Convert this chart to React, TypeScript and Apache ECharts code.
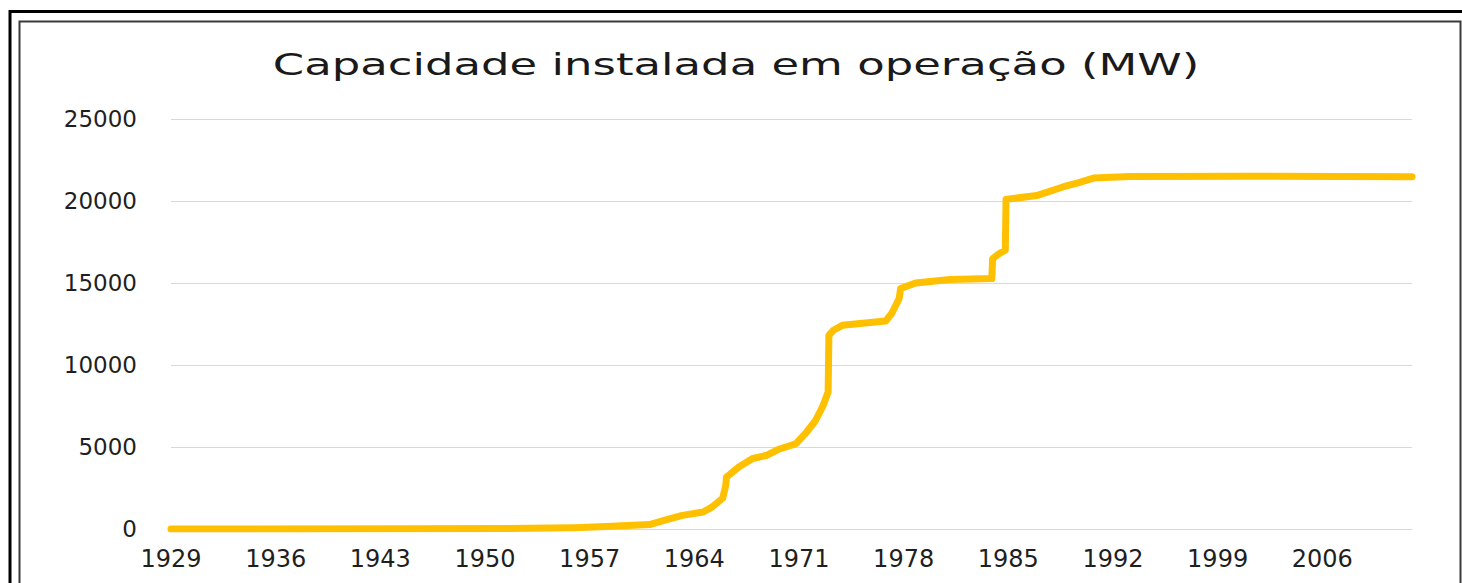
import React, { useEffect, useRef } from "react";
import * as echarts from "echarts";

const TITLE = "Capacidade instalada em operação (MW)";

// Date (fractional year) of each reading and installed capacity in MW
const years = [
  1929, 1945, 1953, 1956, 1958.1, 1961.0, 1962.1, 1963.2, 1964.6, 1965.2,
  1965.9, 1966.1, 1966.15, 1967.0, 1967.9, 1968.8, 1969.7, 1970.8, 1971.5, 1972.1,
  1972.6, 1972.95, 1973.0, 1973.3, 1973.9, 1976.8, 1977.2, 1977.7, 1977.8, 1978.8,
  1981.1, 1983.9, 1983.95, 1984.4, 1984.8, 1984.85, 1986.9, 1988.7, 1989.6, 1990.7,
  1993.1, 2001.2, 2012,
];
const capacityMW = [
  0, 10, 40, 80, 150, 270, 560, 830, 1040, 1350,
  1880, 2650, 3160, 3800, 4300, 4480, 4880, 5200, 5900, 6600,
  7500, 8350, 11810, 12120, 12420, 12680, 13140, 14050, 14660, 15000,
  15210, 15270, 16480, 16800, 17000, 20100, 20330, 20870, 21090, 21400,
  21490, 21510, 21480,
];

const xMin = 1929;
const xMax = 2012;
const xStep = 7;
const yMin = 0;
const yMax = 25000;
const yStep = 5000;

export default function App() {
  const ref = useRef<HTMLDivElement>(null);

  useEffect(() => {
    document.body.style.margin = "0";
    if (!ref.current) return;
    const chart = echarts.init(ref.current, null, { renderer: "svg" });
    const font = "'DejaVu Sans', 'Open Sans', sans-serif";
    chart.setOption({
      animation: false,
      backgroundColor: "#ffffff",
      grid: { left: 171, right: 50, top: 119, bottom: 54, containLabel: false },
      graphic: [
        {
          type: "rect",
          silent: true,
          shape: { x: 10, y: 11.5, width: 1480, height: 620 },
          style: { fill: "none", stroke: "#000000", lineWidth: 3 },
        },
        {
          type: "rect",
          silent: true,
          shape: { x: 19.5, y: 21.5, width: 1441, height: 620 },
          style: { fill: "none", stroke: "#3a3a3a", lineWidth: 2 },
        },
        {
          type: "text",
          silent: true,
          x: 736,
          y: 64,
          scaleX: 1.45,
          scaleY: 1,
          style: {
            text: TITLE,
            fontFamily: font,
            fontSize: 31,
            fill: "#1a1a1a",
            align: "center",
            verticalAlign: "middle",
          },
        },
      ],
      xAxis: {
        type: "value",
        min: xMin,
        max: xMax,
        interval: xStep,
        axisLine: { show: true, lineStyle: { color: "#d9d9d9", width: 1 } },
        axisTick: { show: false },
        splitLine: { show: false },
        axisLabel: {
          showMaxLabel: false,
          margin: 18,
          fontFamily: font,
          fontSize: 24,
          color: "#1f1f1f",
          formatter: (v: number) => String(Math.round(v)),
        },
      },
      yAxis: {
        type: "value",
        min: yMin,
        max: yMax,
        interval: yStep,
        axisLine: { show: false },
        axisTick: { show: false },
        splitLine: { show: true, lineStyle: { color: "#d9d9d9", width: 1 } },
        axisLabel: {
          margin: 34,
          fontFamily: font,
          fontSize: 23,
          color: "#1f1f1f",
          formatter: (v: number) => String(Math.round(v)),
        },
      },
      series: [
        {
          type: "line",
          data: years.map((y, i) => [y, capacityMW[i]]),
          showSymbol: false,
          symbol: "none",
          lineStyle: { color: "#FFC000", width: 7, join: "round", cap: "round" },
          itemStyle: { color: "#FFC000" },
        },
      ],
    });
    return () => chart.dispose();
  }, []);

  return (
    <div
      ref={ref}
      style={{ position: "absolute", left: 0, top: 0, width: 1462, height: 583, background: "#fff" }}
    />
  );
}
